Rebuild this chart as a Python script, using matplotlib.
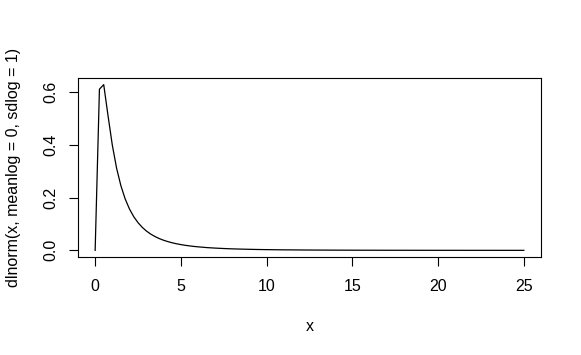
import matplotlib
matplotlib.use("Agg")
import matplotlib.pyplot as plt

# x grid and lognormal density values
x = [0, 0.25, 0.5, 0.75, 1, 1.25, 1.5, 1.75, 2, 2.25, 2.5, 2.75, 3, 3.25, 3.5,
     3.75, 4, 4.25, 4.5, 4.75, 5, 5.25, 5.5, 5.75, 6,
     6.5, 7, 7.5, 8, 8.5, 9, 9.5, 10, 10.5, 11, 11.5, 12,
     13, 14, 15, 16, 17, 18, 19, 20, 21, 22, 23, 24, 25]
y = [0, 0.6104, 0.6276, 0.5104, 0.3989, 0.3113, 0.2450, 0.1949, 0.1569, 0.1276,
     0.1049, 0.0870, 0.0727, 0.0613, 0.0520, 0.0444, 0.0381, 0.0330, 0.0286,
     0.0249, 0.0219, 0.0192, 0.0170, 0.0150, 0.0134,
     0.0106, 0.0086, 0.0070, 0.0057, 0.0048, 0.0040, 0.0033, 0.0028, 0.0024,
     0.0020, 0.0018, 0.0015,
     0.00114, 0.00088, 0.00068, 0.00053, 0.00042, 0.00034, 0.00028, 0.00023,
     0.00018, 0.00015, 0.00013, 0.00011, 0.00009]

xticks = [0, 5, 10, 15, 20, 25]
yticks = [0.0, 0.2, 0.4, 0.6]
ytick_labels = ["0.0", "0.2", "0.4", "0.6"]

plt.rcParams['font.family'] = ['Liberation Sans', 'DejaVu Sans']

fig = plt.figure(figsize=(5.81, 3.55), dpi=100)
ax = fig.add_axes([78 / 581, 98 / 355, 463 / 581, 179 / 355])

ax.plot(x, y, color="black", lw=0.9)

ax.set_xlim(-1, 26)
ax.set_ylim(-0.0251, 0.6527)
ax.set_xticks(xticks)
ax.set_yticks(yticks)
ax.set_yticklabels(ytick_labels, rotation=90, va="center")

ax.tick_params(direction="out", length=6.5, width=0.8, labelsize=11.5,
               colors="black", top=False, right=False)
ax.tick_params(axis="x", pad=9.5)
ax.tick_params(axis="y", pad=7.5)
for s in ax.spines.values():
    s.set_linewidth(0.8)
    s.set_color("black")

ax.set_xlabel("x", fontsize=11.5)
ax.xaxis.set_label_coords(0.5, -0.39)
ax.xaxis.label.set_va("center")
ax.set_ylabel("dlnorm(x, meanlog = 0, sdlog = 1)", fontsize=11.5)
ax.yaxis.set_label_coords(-0.14, 0.5)
ax.yaxis.label.set_va("center")

fig.savefig("out.png", dpi=100)
